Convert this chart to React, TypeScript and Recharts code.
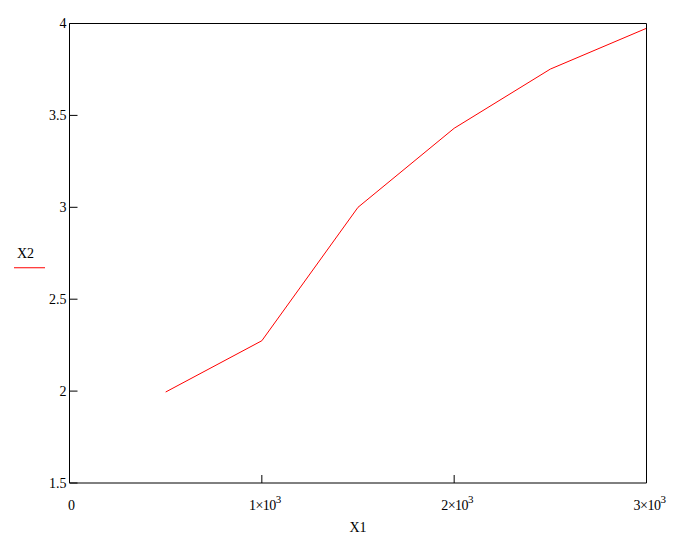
import React from "react";
import { LineChart, Line, XAxis, YAxis } from "recharts";

const x1Values = [500, 1000, 1500, 2000, 2500, 3000];
const x2Values = [1.995, 2.274, 3.0, 3.43, 3.752, 3.974];
const xTicks = [0, 1000, 2000, 3000];
const yTicks = [1.5, 2, 2.5, 3, 3.5, 4];

const data = x1Values.map((x, i) => ({ x1: x, x2: x2Values[i] }));

const FONT = "'Liberation Serif', 'Times New Roman', serif";

function XTick(props: any) {
  const { x, y, payload } = props;
  const v = payload.value as number;
  if (v === 0) {
    return (
      <text x={x + 2} y={y} textAnchor="middle" fontSize={14} fontFamily={FONT} fill="#000">
        0
      </text>
    );
  }
  const mant = Math.round(v / 1000);
  return (
    <text x={x + 3} y={y} textAnchor="middle" fontSize={14} fontFamily={FONT} fill="#000" letterSpacing={-0.5}>
      {`${mant}×10`}
      <tspan dy={-7} fontSize={11}>3</tspan>
    </text>
  );
}

function YLegend(props: any) {
  const { viewBox } = props;
  const cy = viewBox.y + viewBox.height / 2;
  return (
    <g>
      <text x={25.5} y={cy + 5} textAnchor="middle" fontSize={14} fontFamily={FONT} fill="#000">
        X2
      </text>
      <line x1={14} x2={45} y1={cy + 14.5} y2={cy + 14.5} stroke="#ff0000" strokeWidth={1} />
    </g>
  );
}

export default function App() {
  return (
    <div style={{ position: "absolute", left: 0, top: 0, width: 688, height: 546, background: "#fff" }}>
      <LineChart
        width={688}
        height={546}
        data={data}
        margin={{ top: 13.5, right: 31.5, bottom: 33, left: 9.5 }}
      >
        <XAxis
          xAxisId="bottom"
          dataKey="x1"
          type="number"
          domain={[0, 3000]}
          ticks={xTicks}
          height={30}
          stroke="#000"
          tickSize={-8}
          tickMargin={35}
          tick={<XTick />}
          label={{ value: "X1", position: "insideBottom", offset: -19, fill: "#000", fontSize: 14, fontFamily: FONT }}
        />
        <XAxis
          xAxisId="top"
          orientation="top"
          dataKey="x1"
          type="number"
          domain={[0, 3000]}
          ticks={xTicks}
          height={10}
          stroke="#000"
          tickSize={-8}
          tick={false}
        />
        <YAxis
          yAxisId="left"
          type="number"
          domain={[1.5, 4]}
          ticks={yTicks}
          width={60}
          stroke="#000"
          tickSize={-8}
          tickMargin={11}
          tick={{ fill: "#000", fontSize: 14, fontFamily: FONT }}
          label={{ content: <YLegend /> }}
        />
        <YAxis
          yAxisId="right"
          orientation="right"
          type="number"
          domain={[1.5, 4]}
          ticks={yTicks}
          width={10}
          stroke="#000"
          tickSize={-8}
          tick={false}
        />
        <Line
          xAxisId="bottom"
          yAxisId="left"
          type="linear"
          dataKey="x2"
          stroke="#ff0000"
          strokeWidth={1}
          dot={false}
          isAnimationActive={false}
        />
      </LineChart>
    </div>
  );
}
